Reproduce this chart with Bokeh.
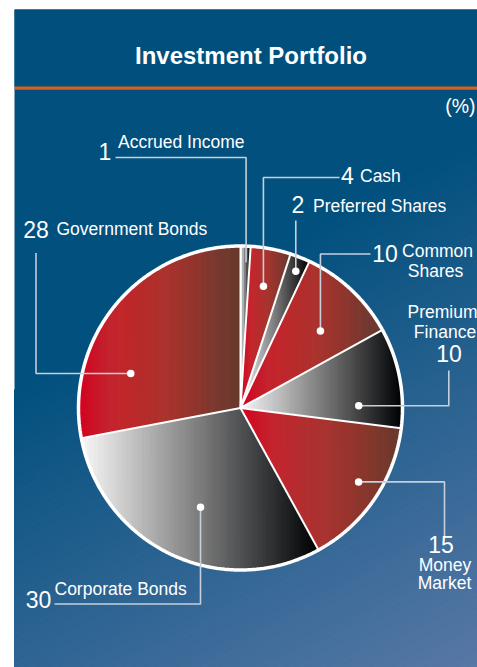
import math
from bokeh.plotting import figure
from bokeh.models import Range1d
from bokeh.embed import file_html
from bokeh.resources import INLINE
from bokeh.core.properties import value

# ---------------- data ----------------
title_text = "Investment Portfolio"
unit_text = "(%)"
categories = ["Accrued Income", "Cash", "Preferred Shares", "Common Shares",
              "Premium Finance", "Money Market", "Corporate Bonds", "Government Bonds"]
shares = [1, 4, 2, 10, 10, 15, 30, 28]
label_lines = [["Accrued Income"], ["Cash"], ["Preferred Shares"], ["Common", "Shares"],
               ["Premium", "Finance"], ["Money", "Market"], ["Corporate Bonds"], ["Government Bonds"]]

# ---------------- styles / layout ----------------
slice_ramp = ["gray", "red", "gray", "red", "gray", "red", "gray", "red"]
RED_STOPS = [(0.0, (215, 0, 30)), (0.2, (200, 36, 44)), (0.55, (170, 52, 46)), (1.0, (104, 58, 45))]
GRAY_STOPS = [(0.0, (250, 250, 250)), (1.0, (0, 0, 0))]
BG_DARK = (2, 80, 126)
BG_LIGHT = (88, 120, 166)
FONT = value("Liberation Sans")
BASE_SHIFT = 0.39  # text baseline correction (fraction of font size)

layout = {
    "Accrued Income":   dict(dot=(0.61, 0.90), show_dot=False, path=("vh", 157, 115),
                             num=(104.5, 160), name=[(117.5, 148, "left")]),
    "Cash":             dict(dot=(0.49, 0.765), show_dot=True, path=("vh", 177, 339),
                             num=(347, 184), name=[(359.5, 182.5, "left")]),
    "Preferred Shares": dict(dot=(0.56, 0.91), show_dot=True, path=("vh", 220, None),
                             num=(297.5, 213), name=[(312.5, 212, "left")]),
    "Common Shares":    dict(dot=(0.58, 0.685), show_dot=True, path=("vh", 253.5, 370),
                             num=(384.5, 261.5), name=[(437, 257, "center"), (435, 277, "center")]),
    "Premium Finance":  dict(dot=(0.77, 0.73), show_dot=True, path=("hv", 448.3, 370),
                             num=(448.5, 361.5), name=[(442, 318.5, "center"), (444.5, 338, "center")]),
    "Money Market":     dict(dot=(0.46, 0.86), show_dot=True, path=("hv", 444, 537),
                             num=(440.5, 553), name=[(444.5, 571, "center"), (444, 589.5, "center")]),
    "Corporate Bonds":  dict(dot=(0.47, 0.66), show_dot=True, path=("vh", 603.5, 54),
                             num=(38, 608), name=[(54, 595, "left")]),
    "Government Bonds": dict(dot=(0.28, 0.71), show_dot=True, path=("hv", 35.5, 252.5),
                             num=(35.5, 238), name=[(56, 235, "left")]),
}

W, H = 477, 667
CX, CY, R = 240.0, 407.5, 162.0
PANEL_L, PANEL_R, PANEL_T, PANEL_B = 14, 477, 9, 667
BAND_B, ORANGE_B = 86, 89.3


def lerp_color(stops, t):
    t = max(0.0, min(1.0, t))
    for (t0, c0), (t1, c1) in zip(stops[:-1], stops[1:]):
        if t <= t1:
            u = 0 if t1 == t0 else (t - t0) / (t1 - t0)
            c = [round(a + (b - a) * u) for a, b in zip(c0, c1)]
            return "#%02x%02x%02x" % tuple(c)
    return "#%02x%02x%02x" % stops[-1][1]


def clip(poly, a, b, c):
    """keep a*x + b*y <= c"""
    out = []
    n = len(poly)
    for i in range(n):
        P, Q = poly[i], poly[(i + 1) % n]
        fp = a * P[0] + b * P[1] - c
        fq = a * Q[0] + b * Q[1] - c
        if fp <= 0:
            out.append(P)
        if fp * fq < 0:
            t = fp / (fp - fq)
            out.append((P[0] + t * (Q[0] - P[0]), P[1] + t * (Q[1] - P[1])))
    return out


def pt(deg, r):
    a = math.radians(deg)
    return CX + r * math.sin(a), CY - r * math.cos(a)


def put_text(xs, ys, texts, size, align, bold=False):
    p.text(x=xs, y=[y - BASE_SHIFT * size for y in ys], text=texts, text_align=align,
           text_baseline="alphabetic", text_font=FONT,
           text_font_style="bold" if bold else "normal",
           text_font_size="%gpx" % size, text_color="white")


p = figure(width=W, height=H, x_range=Range1d(0, W), y_range=Range1d(H, 0),
           output_backend="svg", toolbar_location=None, min_border=0,
           x_axis_location=None, y_axis_location=None)
p.grid.visible = False
p.outline_line_color = None
p.background_fill_color = "white"
p.border_fill_color = "white"

# ---------------- background ----------------
p.quad(left=[PANEL_L], right=[PANEL_R], top=[PANEL_T], bottom=[PANEL_B],
       fill_color="#%02x%02x%02x" % BG_DARK, line_color=None)
rect = [(PANEL_L, ORANGE_B), (PANEL_R, ORANGE_B), (PANEL_R, PANEL_B), (PANEL_L, PANEL_B)]
K = 0.55
g0 = 300.0
gmax = K * (PANEL_R - PANEL_L) + (PANEL_B - ORANGE_B)
off = K * PANEL_L + ORANGE_B
nb = 90
bxs, bys, bcs = [], [], []
for i in range(nb):
    ga = g0 + (gmax - g0) * i / nb
    gb = g0 + (gmax - g0) * (i + 1) / nb
    poly = clip(rect, -K, -1, -(ga + off))
    poly = clip(poly, K, 1, gb + off)
    if len(poly) >= 3:
        bxs.append([q[0] for q in poly]); bys.append([q[1] for q in poly])
        bcs.append(lerp_color([(0, BG_DARK), (1, BG_LIGHT)], (i + 0.5) / nb))
p.patches(xs=bxs, ys=bys, fill_color=bcs, line_color=bcs, line_width=1)

# title band + orange rule
p.quad(left=[PANEL_L], right=[PANEL_R], top=[PANEL_T], bottom=[BAND_B],
       fill_color="#004f7c", line_color=None)
p.quad(left=[PANEL_L], right=[PANEL_R], top=[BAND_B], bottom=[ORANGE_B],
       fill_color="#d9601a", line_color=None)
put_text([250.5], [64.5], [title_text], 24, "center", bold=True)
put_text([475], [113.5], [unit_text], 19.5, "right")

# ---------------- pie ----------------
total = float(sum(shares))
starts, ends = [], []
acc = 0.0
for v in shares:
    starts.append(360.0 * acc / total)
    acc += v
    ends.append(360.0 * acc / total)

sxs, sys_, scs = [], [], []
for s, e, ramp in zip(starts, ends, slice_ramp):
    npts = max(4, int((e - s) / 0.5))
    poly = [(CX, CY)] + [pt(s + (e - s) * k / npts, R) for k in range(npts + 1)]
    xmin = min(q[0] for q in poly); xmax = max(q[0] for q in poly)
    ns = max(4, int((xmax - xmin) / 2))
    stops = RED_STOPS if ramp == "red" else GRAY_STOPS
    for j in range(ns):
        a = xmin + (xmax - xmin) * j / ns
        b = xmin + (xmax - xmin) * (j + 1) / ns
        sp = clip(poly, -1, 0, -a)
        sp = clip(sp, 1, 0, b)
        if len(sp) >= 3:
            sxs.append([q[0] for q in sp]); sys_.append([q[1] for q in sp])
            scs.append(lerp_color(stops, (j + 0.5) / ns))
p.patches(xs=sxs, ys=sys_, fill_color=scs, line_color=scs, line_width=0.8)

# slice separators
rx, ry = [], []
for s in starts:
    ex, ey = pt(s, R)
    rx.append([CX, ex]); ry.append([CY, ey])
p.multi_line(xs=rx, ys=ry, line_color="white", line_width=2)
circ = [pt(k * 0.5, R) for k in range(721)]
p.line(x=[q[0] for q in circ], y=[q[1] for q in circ], line_color="white", line_width=3.5)

# ---------------- leaders, dots, labels ----------------
lx, ly, dx_, dy_ = [], [], [], []
for cat, s, e in zip(categories, starts, ends):
    L = layout[cat]
    fa, fr = L["dot"]
    x, y = pt(s + (e - s) * fa, R * fr)
    kind, a, b = L["path"]
    if kind == "vh":
        xe = x if b is None else b
        lx.append([x, x, xe]); ly.append([y, a, a])
    else:
        lx.append([x, a, a]); ly.append([y, y, b])
    if L["show_dot"]:
        dx_.append(x); dy_.append(y)
p.multi_line(xs=lx, ys=ly, line_color="#c6cfdb", line_width=1.6)
p.scatter(x=dx_, y=dy_, size=7.5, fill_color="white", line_color=None)

nx, ny, nt = [], [], []
groups = {"left": ([], [], []), "center": ([], [], [])}
for cat, v, lines in zip(categories, shares, label_lines):
    L = layout[cat]
    nx.append(L["num"][0]); ny.append(L["num"][1]); nt.append(str(v))
    for (x, y, al), txt in zip(L["name"], lines):
        groups[al][0].append(x); groups[al][1].append(y); groups[al][2].append(txt)
put_text(nx, ny, nt, 23, "center")
for al, (gx, gy, gt) in groups.items():
    put_text(gx, gy, gt, 17.5, al)

open("out.html", "w").write(file_html(p, INLINE))
